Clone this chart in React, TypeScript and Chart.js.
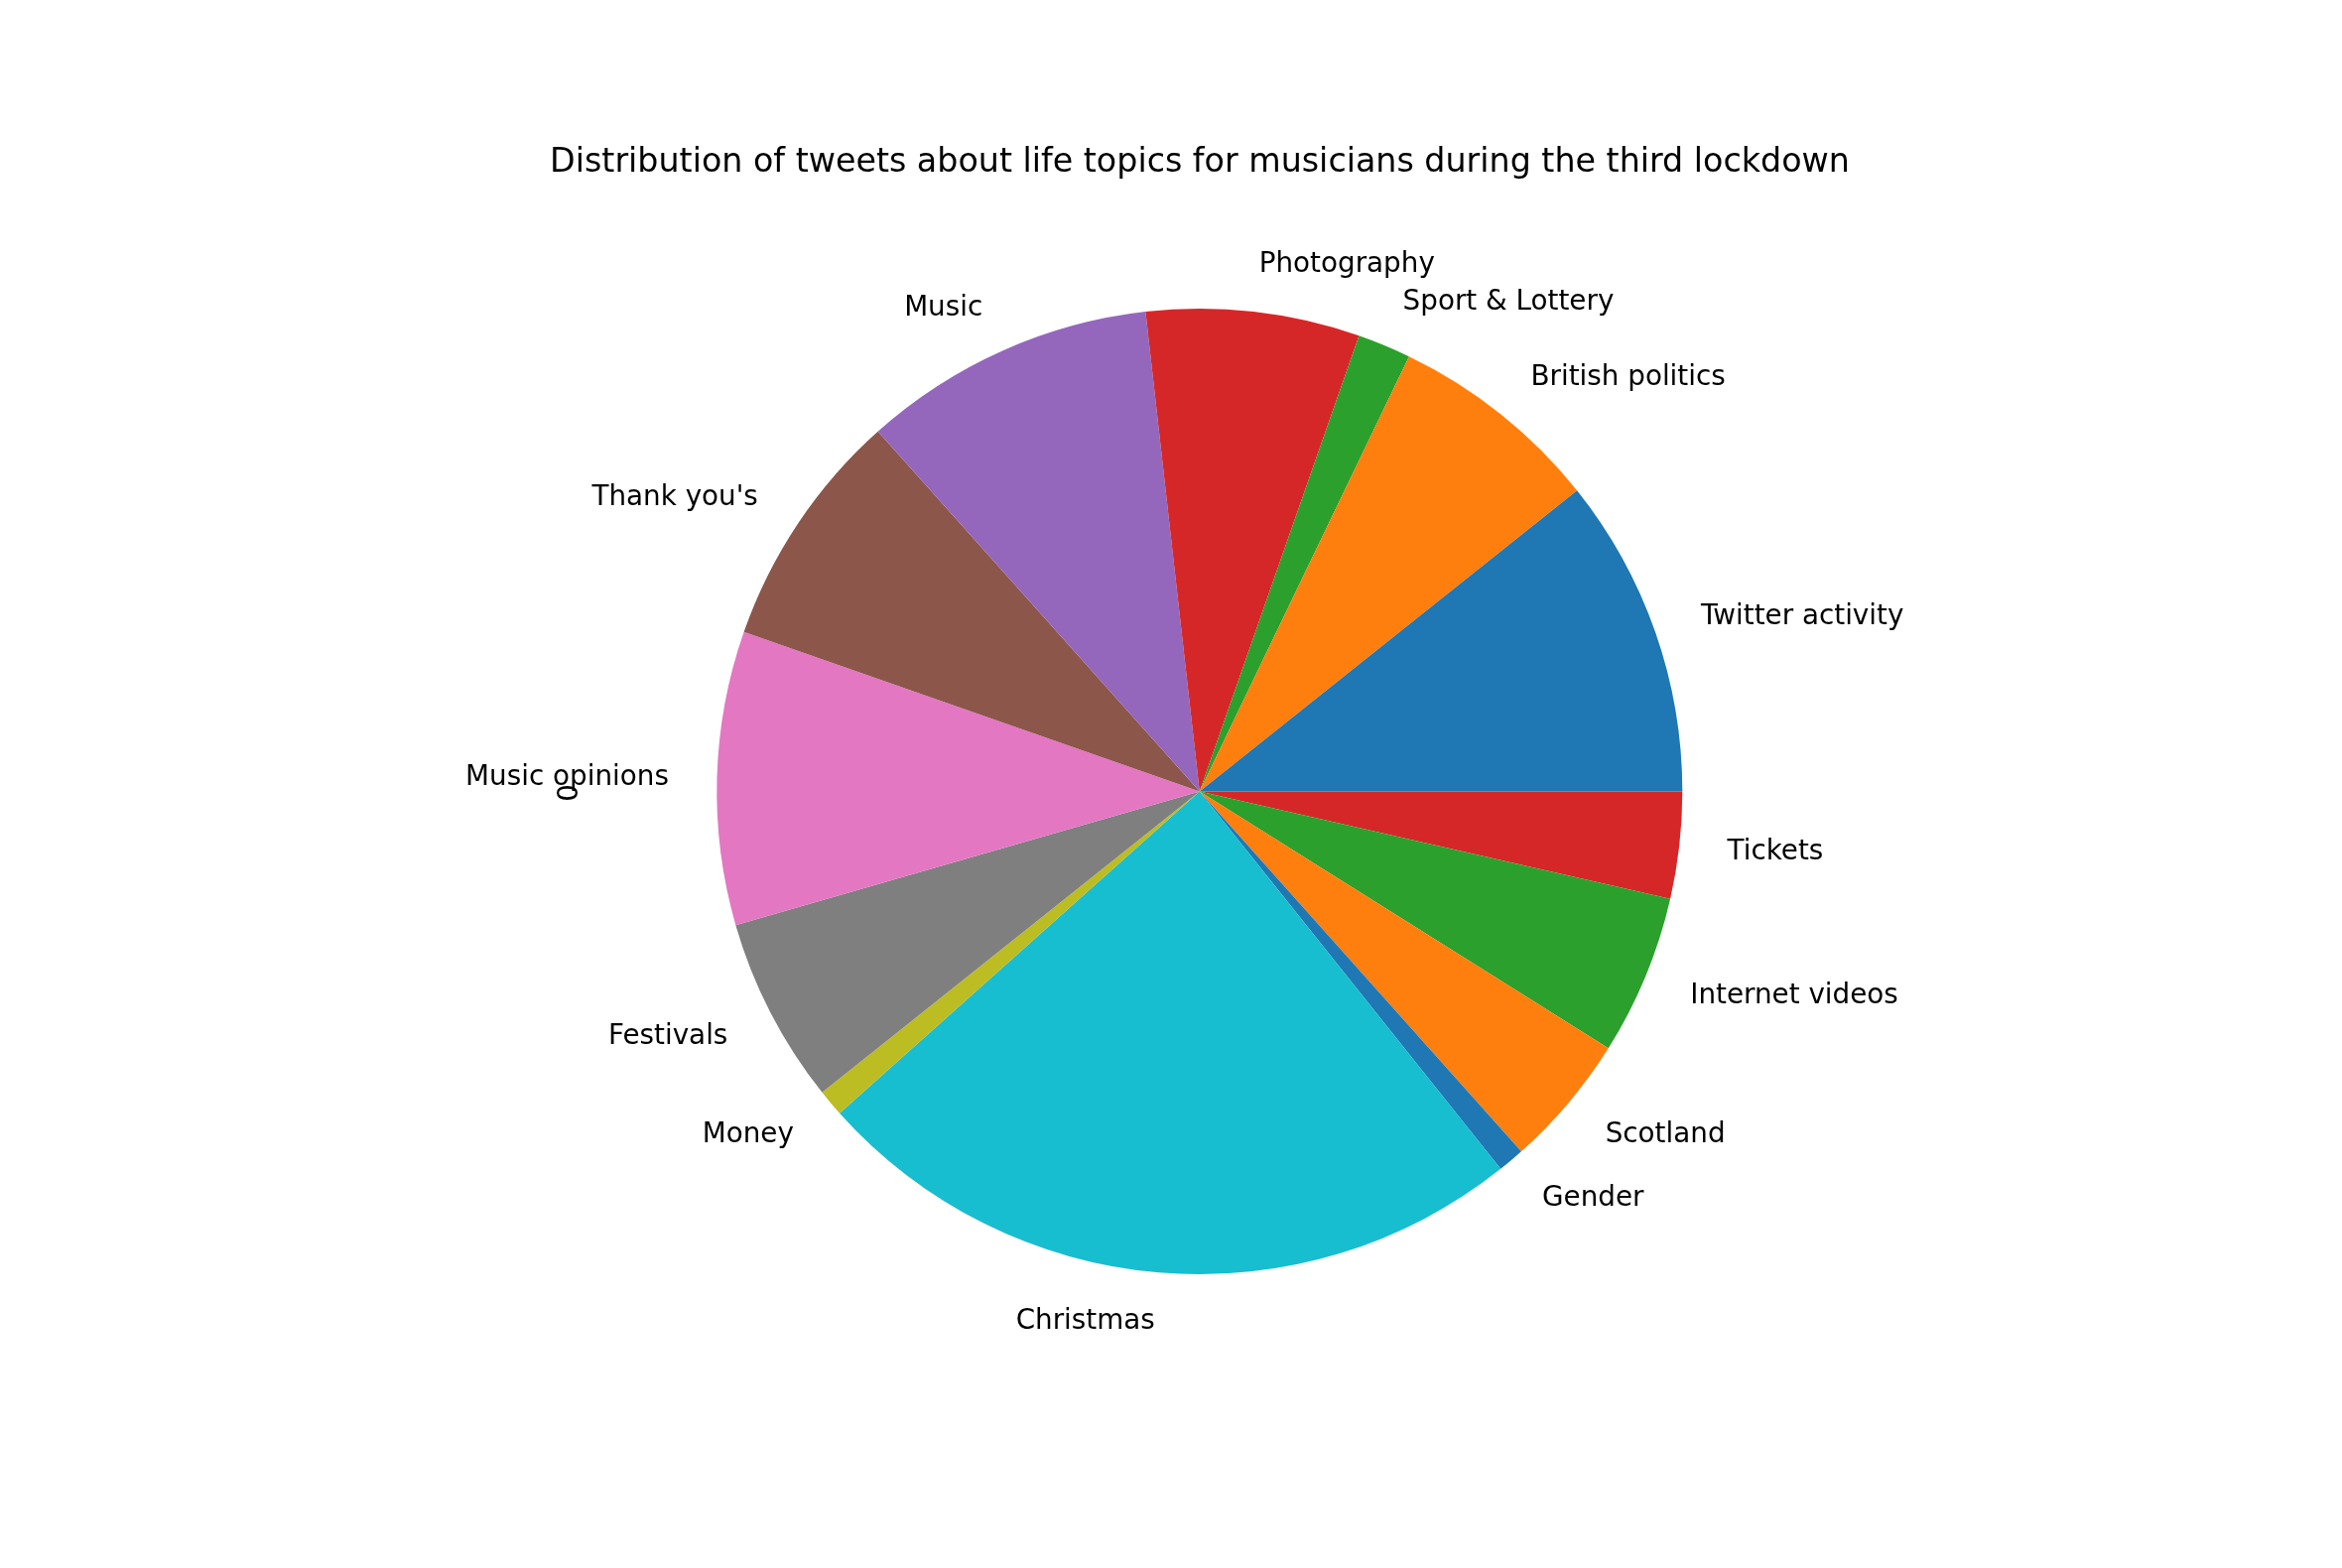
import React, { useEffect, useRef } from "react";
import { Chart, registerables } from "chart.js";

Chart.register(...registerables);

const TITLE = "Distribution of tweets about life topics for musicians during the third lockdown";
const Y_LABEL = "0";
const CATEGORIES = [
  "Twitter activity",
  "British politics",
  "Sport & Lottery",
  "Photography",
  "Music",
  "Thank you's",
  "Music opinions",
  "Festivals",
  "Money",
  "Christmas",
  "Gender",
  "Scotland",
  "Internet videos",
  "Tickets",
];
const VALUES = [12, 8, 2, 8, 11, 9, 11, 7, 1, 27, 1, 5, 6, 4];
const TAB10 = [
  "#1f77b4",
  "#ff7f0e",
  "#2ca02c",
  "#d62728",
  "#9467bd",
  "#8c564b",
  "#e377c2",
  "#7f7f7f",
  "#bcbd22",
  "#17becf",
];

const FONT = "'DejaVu Sans', sans-serif";

export default function App() {
  const ref = useRef<HTMLCanvasElement | null>(null);

  useEffect(() => {
    const canvas = ref.current;
    if (!canvas) return;
    const colors = CATEGORIES.map((_, i) => TAB10[i % TAB10.length]);
    // matplotlib draws counter-clockwise from 3 o'clock; Chart.js goes clockwise,
    // so reverse the order and start at 3 o'clock.
    const labels = [...CATEGORIES].reverse();
    const data = [...VALUES].reverse();
    const bg = [...colors].reverse();

    const labelPlugin = {
      id: "mplLabels",
      afterDraw(chart: any) {
        const ctx = chart.ctx as CanvasRenderingContext2D;
        const meta = chart.getDatasetMeta(0);
        ctx.save();
        ctx.fillStyle = "#000";
        // y label "0" (rotated)
        ctx.save();
        ctx.font = `27.8px ${FONT}`;
        ctx.translate(575, 799);
        ctx.rotate(-Math.PI / 2);
        ctx.textAlign = "center";
        ctx.textBaseline = "middle";
        ctx.fillText(Y_LABEL, 0, 0);
        ctx.restore();

        ctx.font = `27.8px ${FONT}`;
        ctx.textBaseline = "middle";
        meta.data.forEach((arc: any, i: number) => {
          const p = arc.getProps(["x", "y", "startAngle", "endAngle", "outerRadius"], true);
          const mid = (p.startAngle + p.endAngle) / 2;
          const r = p.outerRadius * 1.1;
          const x = p.x + r * Math.cos(mid);
          const y = p.y + r * Math.sin(mid) + 1.5;
          ctx.textAlign = Math.cos(mid) > 0 ? "left" : "right";
          ctx.fillText(chart.data.labels[i], x, y);
        });

        ctx.font = `33.3px ${FONT}`;
        ctx.textAlign = "center";
        ctx.textBaseline = "alphabetic";
        ctx.fillText(TITLE, 1209, 173);
        ctx.restore();
      },
    };

    const chart = new Chart(canvas, {
      type: "pie",
      data: {
        labels,
        datasets: [
          {
            data,
            backgroundColor: bg,
            borderWidth: 0,
          },
        ],
      },
      options: {
        responsive: false,
        animation: false,
        rotation: 90,
        layout: {
          padding: { top: 311, bottom: 296, left: 722.3, right: 664.7 },
        },
        plugins: {
          legend: { display: false },
          title: { display: false },
          tooltip: { enabled: false },
        },
      },
      plugins: [labelPlugin],
    });
    return () => chart.destroy();
  }, []);

  return (
    <div style={{ position: "fixed", left: 0, top: 0, width: 2360, height: 1580, background: "#fff" }}>
      <canvas ref={ref} width={2360} height={1580} style={{ width: 2360, height: 1580 }} />
    </div>
  );
}
